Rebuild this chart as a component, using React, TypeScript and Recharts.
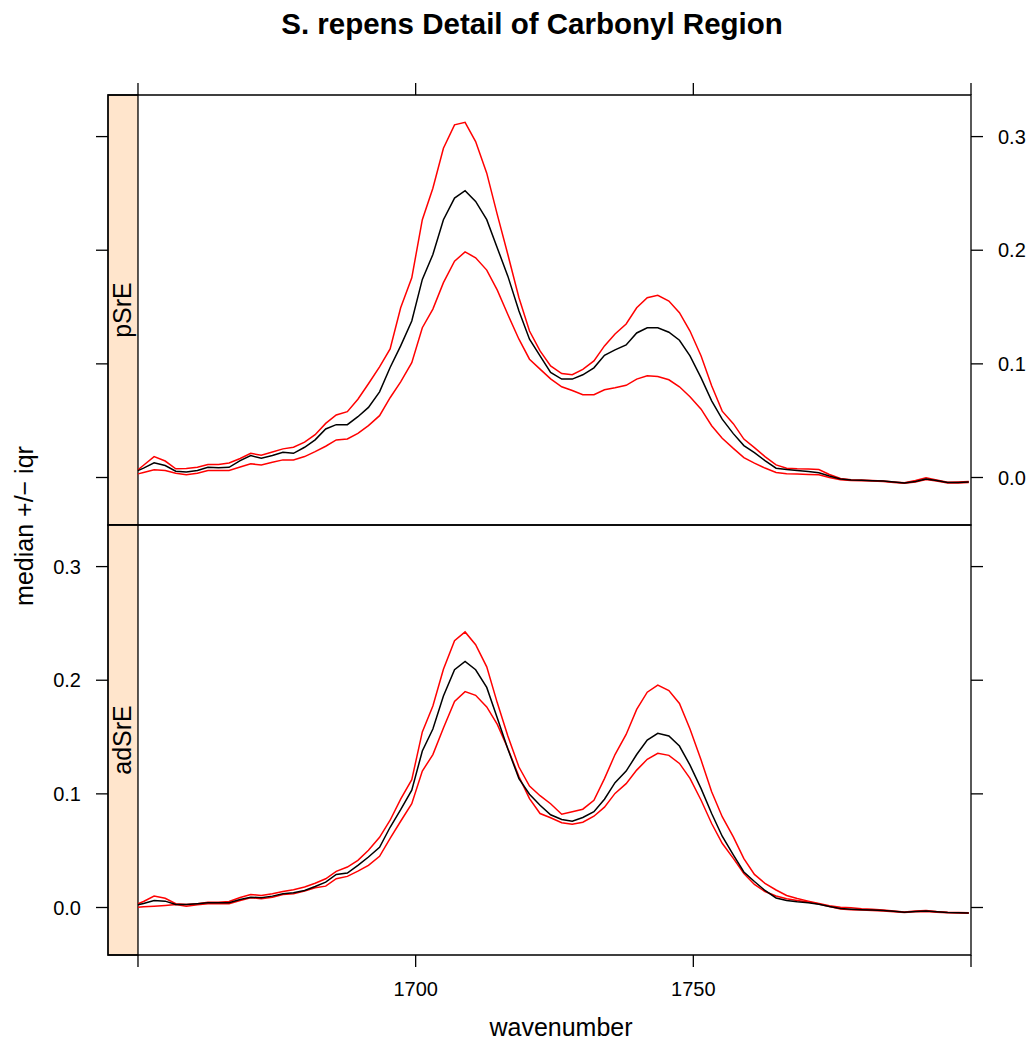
import { LineChart, Line, XAxis, YAxis, ReferenceArea } from "recharts";

// wavenumber grid (cm^-1)
const wavenumber = [
  1650.0, 1651.0, 1652.9, 1654.9, 1656.8, 1658.7, 1660.7, 1662.6, 1664.5, 1666.4,
  1668.4, 1670.3, 1672.2, 1674.2, 1676.1, 1678.0, 1680.0, 1681.9, 1683.8, 1685.7,
  1687.7, 1689.6, 1691.5, 1693.5, 1695.4, 1697.3, 1699.3, 1701.2, 1703.1, 1705.0,
  1707.0, 1708.9, 1710.8, 1712.8, 1714.7, 1716.6, 1718.6, 1720.5, 1722.4, 1724.3,
  1726.3, 1728.2, 1730.1, 1732.1, 1734.0, 1735.9, 1737.9, 1739.8, 1741.7, 1743.6,
  1745.6, 1747.5, 1749.4, 1751.4, 1753.3, 1755.2, 1757.2, 1759.1, 1761.0, 1762.9,
  1764.9, 1766.8, 1768.7, 1770.7, 1772.6, 1774.5, 1776.5, 1778.4, 1780.3, 1782.2,
  1784.2, 1786.1, 1788.0, 1790.0, 1791.9, 1793.8, 1795.8, 1797.7, 1799.6,
];

// pSrE panel: median +/- iqr
const pSrEUpper = [
  0.0068, 0.0108, 0.0184, 0.0145, 0.0076, 0.0079, 0.0091, 0.0114, 0.0114, 0.0127,
  0.0167, 0.0213, 0.0196, 0.0225, 0.0252, 0.0266, 0.0311, 0.0377, 0.0476, 0.055,
  0.0579, 0.0689, 0.0825, 0.0974, 0.1132, 0.1494, 0.1757, 0.2269, 0.2546, 0.2897,
  0.3103, 0.3125, 0.2956, 0.2678, 0.2313, 0.1962, 0.1582, 0.1289, 0.1114, 0.0982,
  0.0915, 0.0904, 0.0952, 0.1026, 0.1158, 0.1263, 0.1351, 0.1494, 0.1582, 0.1603,
  0.1553, 0.145, 0.1289, 0.107, 0.0807, 0.0584, 0.0474, 0.0338, 0.0263, 0.0184,
  0.0111, 0.0082, 0.0077, 0.0074, 0.007, 0.0026, -0.0009, -0.002, -0.0022, -0.0026,
  -0.0031, -0.0039, -0.0046, -0.0026, -0.0003, -0.0022, -0.0041, -0.0039, -0.0035,
];
const pSrEMedian = [
  0.0061, 0.0083, 0.0129, 0.0105, 0.0055, 0.0048, 0.0061, 0.009, 0.0085, 0.009,
  0.0149, 0.0193, 0.0169, 0.0193, 0.0222, 0.0213, 0.0266, 0.0331, 0.0427, 0.0465,
  0.0465, 0.0535, 0.0617, 0.0754, 0.0968, 0.1158, 0.1377, 0.1743, 0.1962, 0.2269,
  0.2459, 0.2524, 0.243, 0.2269, 0.202, 0.1772, 0.1465, 0.1217, 0.107, 0.0924,
  0.0866, 0.0866, 0.0904, 0.0965, 0.1075, 0.1123, 0.1167, 0.1272, 0.1318, 0.1318,
  0.1278, 0.1208, 0.107, 0.0877, 0.0675, 0.0513, 0.0386, 0.0281, 0.0219, 0.0149,
  0.0082, 0.007, 0.0061, 0.0053, 0.0041, 0.0013, -0.0013, -0.0022, -0.0025, -0.0028,
  -0.0031, -0.0039, -0.0048, -0.0035, -0.0013, -0.0026, -0.0044, -0.0044, -0.0039,
];
const pSrELower = [
  0.0032, 0.0044, 0.0068, 0.0061, 0.0038, 0.0025, 0.0038, 0.0061, 0.0061, 0.0061,
  0.0092, 0.012, 0.0111, 0.0134, 0.0155, 0.0155, 0.0184, 0.0228, 0.0275, 0.0331,
  0.0339, 0.0389, 0.0456, 0.0544, 0.0702, 0.0842, 0.1011, 0.1318, 0.1482, 0.1715,
  0.1904, 0.1985, 0.1934, 0.1825, 0.1649, 0.1434, 0.1217, 0.1041, 0.0954, 0.0868,
  0.0798, 0.0765, 0.0728, 0.0728, 0.0772, 0.0789, 0.0811, 0.0866, 0.0895, 0.0889,
  0.086, 0.0798, 0.0711, 0.0601, 0.0456, 0.0346, 0.0256, 0.0175, 0.0127, 0.0083,
  0.0044, 0.0032, 0.003, 0.0026, 0.0024, 0.0, -0.002, -0.0026, -0.0028, -0.0031,
  -0.0035, -0.0044, -0.0051, -0.0039, -0.0018, -0.0031, -0.0048, -0.0048, -0.0044,
];

// adSrE panel: median +/- iqr
const adSrEUpper = [
  0.0033, 0.0053, 0.01, 0.0081, 0.0033, 0.0026, 0.0033, 0.0047, 0.0047, 0.0053,
  0.0088, 0.0115, 0.0106, 0.0121, 0.0141, 0.0156, 0.0181, 0.0214, 0.0253, 0.0318,
  0.0356, 0.0415, 0.0503, 0.0618, 0.0768, 0.0953, 0.1125, 0.1545, 0.1774, 0.2096,
  0.2348, 0.2425, 0.2312, 0.2118, 0.1801, 0.1509, 0.1236, 0.1068, 0.0984, 0.0913,
  0.0821, 0.0843, 0.0865, 0.0944, 0.1134, 0.1346, 0.1523, 0.1743, 0.1895, 0.1957,
  0.1909, 0.1796, 0.1571, 0.1297, 0.1018, 0.0799, 0.0622, 0.043, 0.0291, 0.0212,
  0.0154, 0.0106, 0.0079, 0.0056, 0.0035, 0.0015, 0.0003, -0.0003, -0.0011, -0.0016,
  -0.0023, -0.0031, -0.004, -0.0031, -0.0026, -0.0035, -0.0042, -0.0044, -0.0047,
];
const adSrEMedian = [
  0.0024, 0.0035, 0.0062, 0.0056, 0.0026, 0.0026, 0.0033, 0.0041, 0.0041, 0.0041,
  0.0071, 0.0091, 0.0086, 0.01, 0.0121, 0.013, 0.015, 0.0185, 0.0223, 0.0291,
  0.0303, 0.0371, 0.0444, 0.053, 0.0706, 0.0861, 0.1033, 0.1377, 0.1571, 0.1862,
  0.2092, 0.2165, 0.2092, 0.1937, 0.1668, 0.1395, 0.1134, 0.0997, 0.09, 0.0816,
  0.0774, 0.0759, 0.0792, 0.0843, 0.0953, 0.1099, 0.12, 0.1346, 0.1474, 0.1533,
  0.1509, 0.1421, 0.1253, 0.1046, 0.0827, 0.0627, 0.0463, 0.0313, 0.0229, 0.015,
  0.0084, 0.0062, 0.005, 0.0041, 0.0029, 0.0009, -0.0009, -0.0015, -0.0019, -0.0023,
  -0.0026, -0.0034, -0.0041, -0.0035, -0.0031, -0.0038, -0.0044, -0.0047, -0.0049,
];
const adSrELower = [
  0.0003, 0.0006, 0.0011, 0.0018, 0.0026, 0.0011, 0.0024, 0.0033, 0.0033, 0.0033,
  0.0062, 0.0086, 0.0077, 0.0091, 0.0115, 0.0121, 0.0144, 0.0174, 0.0188, 0.0253,
  0.0274, 0.032, 0.0371, 0.045, 0.0609, 0.0759, 0.0913, 0.12, 0.1346, 0.158,
  0.1814, 0.19, 0.1867, 0.1765, 0.1611, 0.1399, 0.1152, 0.0958, 0.0827, 0.079,
  0.0746, 0.0733, 0.075, 0.0803, 0.0883, 0.1004, 0.109, 0.1209, 0.1304, 0.1357,
  0.1339, 0.1268, 0.1136, 0.0944, 0.0739, 0.0565, 0.0432, 0.03, 0.0203, 0.0141,
  0.0101, 0.0077, 0.0062, 0.0049, 0.0031, 0.0009, -0.0013, -0.0019, -0.0023, -0.0026,
  -0.003, -0.0037, -0.0044, -0.0038, -0.0035, -0.0041, -0.0047, -0.0049, -0.0051,
];

const xTicks = [1650, 1700, 1750, 1800];
const xTickLabels = [1700, 1750];
const yTicks = [0, 0.1, 0.2, 0.3];

// axis limits; x range is widened on the left to leave room for the strip
const X_DATA_MIN = 1650;
const X_MIN = 1644.6;
const X_MAX = 1800;
const Y_MIN = -0.0418;
const Y_MAX = 0.3366;

const FONT = '"Liberation Sans", Arial, Helvetica, sans-serif';
const tickStyle = { fill: "#000", fontSize: 20, fontFamily: FONT };
const tickLineStyle = { stroke: "#000", strokeWidth: 1.3 };

const yLabel = (v: number) => v.toFixed(1);
const noLabel = () => "";

function StripLabel(props: any) {
  const { viewBox, text } = props;
  if (!viewBox) return null;
  const cx = viewBox.x + viewBox.width / 2 + 8;
  const cy = viewBox.y + viewBox.height / 2;
  return (
    <text
      transform={`translate(${cx},${cy}) rotate(-90)`}
      textAnchor="middle"
      fontSize={25}
      fontFamily={FONT}
      fill="#000"
    >
      {text}
    </text>
  );
}

function Panel({ name, upper, median, lower, top }: any) {
  const rows = wavenumber.map((w, i) => ({
    w,
    upper: upper[i],
    median: median[i],
    lower: lower[i],
  }));

  return (
    <LineChart
      width={1032}
      height={top ? 535 : 530}
      data={rows}
      margin={
        top
          ? { top: 0, right: 0, bottom: 10, left: 0 }
          : { top: 10, right: 0, bottom: 0, left: 0 }
      }
    >
      <XAxis
        dataKey="w"
        type="number"
        domain={[X_MIN, X_MAX]}
        allowDataOverflow
        ticks={xTicks}
        interval={0}
        orientation={top ? "top" : "bottom"}
        height={top ? 95 : 90}
        axisLine={false}
        tickLine={tickLineStyle}
        tickSize={12}
        tickMargin={15}
        tick={tickStyle}
        tickFormatter={(v: number) =>
          !top && xTickLabels.includes(v) ? String(v) : ""
        }
      />
      <YAxis
        yAxisId="left"
        orientation="left"
        width={108}
        domain={[Y_MIN, Y_MAX]}
        allowDataOverflow
        ticks={yTicks}
        interval={0}
        axisLine={false}
        tickLine={tickLineStyle}
        tickSize={12}
        tickMargin={15}
        tick={tickStyle}
        tickFormatter={top ? noLabel : yLabel}
      />
      <YAxis
        yAxisId="right"
        orientation="right"
        width={61}
        domain={[Y_MIN, Y_MAX]}
        allowDataOverflow
        ticks={yTicks}
        interval={0}
        axisLine={false}
        tickLine={tickLineStyle}
        tickSize={12}
        tickMargin={15}
        tick={tickStyle}
        tickFormatter={top ? yLabel : noLabel}
      />
      {/* strip on the left of the panel */}
      <ReferenceArea
        yAxisId="left"
        x1={X_MIN}
        x2={X_DATA_MIN}
        y1={Y_MIN}
        y2={Y_MAX}
        fill="#FFE5CC"
        fillOpacity={1}
        stroke="#000"
        strokeWidth={1.3}
        label={<StripLabel text={name} />}
      />
      {/* panel frame */}
      <ReferenceArea
        yAxisId="left"
        x1={X_MIN}
        x2={X_MAX}
        y1={Y_MIN}
        y2={Y_MAX}
        fill="none"
        stroke="#000"
        strokeWidth={1.3}
      />
      <Line
        yAxisId="left"
        dataKey="upper"
        stroke="#FF0000"
        strokeWidth={1.5}
        dot={false}
        isAnimationActive={false}
      />
      <Line
        yAxisId="left"
        dataKey="lower"
        stroke="#FF0000"
        strokeWidth={1.5}
        dot={false}
        isAnimationActive={false}
      />
      <Line
        yAxisId="left"
        dataKey="median"
        stroke="#000000"
        strokeWidth={1.5}
        dot={false}
        isAnimationActive={false}
      />
    </LineChart>
  );
}

export default function App() {
  return (
    <div
      style={{
        position: "absolute",
        left: 0,
        top: 0,
        width: 1032,
        height: 1045,
        background: "#fff",
        fontFamily: FONT,
      }}
    >
      <div style={{ position: "absolute", left: 0, top: 0 }}>
        <Panel name="pSrE" upper={pSrEUpper} median={pSrEMedian} lower={pSrELower} top />
      </div>
      <div style={{ position: "absolute", left: 0, top: 515 }}>
        <Panel name="adSrE" upper={adSrEUpper} median={adSrEMedian} lower={adSrELower} />
      </div>
      <svg
        width={1032}
        height={1045}
        style={{ position: "absolute", left: 0, top: 0, pointerEvents: "none" }}
      >
        <text
          x={532}
          y={34}
          textAnchor="middle"
          fontSize={29.5}
          fontWeight="bold"
          fontFamily={FONT}
          fill="#000"
        >
          S. repens Detail of Carbonyl Region
        </text>
        <text
          transform="translate(33,526) rotate(-90)"
          textAnchor="middle"
          fontSize={25}
          fontFamily={FONT}
          fill="#000"
        >
          median +/− iqr
        </text>
        <text
          x={561}
          y={1036}
          textAnchor="middle"
          fontSize={25}
          fontFamily={FONT}
          fill="#000"
        >
          wavenumber
        </text>
      </svg>
    </div>
  );
}
